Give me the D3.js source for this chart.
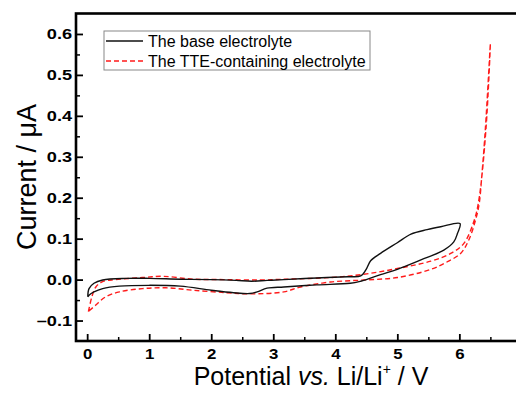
<!DOCTYPE html>
<html>
<head>
<meta charset="utf-8">
<script src="https://d3js.org/d3.v7.min.js"></script>
<style>
  body { margin: 0; background: #fff; }
  svg { display: block; }
  .tick text { font-family: Arial, "Liberation Sans", sans-serif; font-weight: bold; font-size: 14px; fill: #000; }
  .axis path, .axis line { stroke: #000; }
</style>
</head>
<body>
<div id="chart"></div>
<script>
var svgWidth = 516;
var svgHeight = 394;

// potential (V) and current (uA), loop order
var basePotential = [0.01, 0.03, 0.11, 0.25, 0.63, 1.0, 1.5, 2.0, 2.4, 2.65, 2.9, 3.17, 3.7, 4.2, 4.41, 4.49,
  4.57, 4.73, 5.0, 5.22, 5.48, 5.7, 6.01, 5.97, 5.91, 5.75, 5.38, 5.0, 4.73, 4.5, 4.41, 4.24, 3.7, 3.17,
  2.9, 2.74, 2.62, 2.36, 2.0, 1.5, 1.0, 0.52, 0.25, 0.11, 0.03, 0.01];
var baseCurrent = [-0.042, -0.022, -0.009, -0.001, 0.003, 0.003, 0.001, 0.0, -0.002, -0.004, -0.002, 0.0, 0.004, 0.007, 0.009, 0.023,
  0.046, 0.064, 0.09, 0.111, 0.122, 0.129, 0.137, 0.113, 0.092, 0.072, 0.048, 0.025, 0.012, 0.0, -0.004, -0.009, -0.013, -0.018,
  -0.021, -0.030, -0.034, -0.032, -0.026, -0.016, -0.014, -0.016, -0.022, -0.030, -0.038, -0.042];

var ttePotential = [0.02, 0.08, 0.14, 0.25, 0.46, 0.89, 1.22, 1.71, 2.2, 2.79, 3.2, 3.92, 4.46, 5.0, 5.54, 5.86,
  6.07, 6.24, 6.32, 6.43, 6.5, 6.42, 6.36, 6.32, 6.26, 6.15, 6.02, 5.8, 5.54, 5.0, 4.46, 3.92, 3.44,
  3.17, 2.62, 2.25, 1.71, 1.27, 0.89, 0.52, 0.3, 0.14, 0.02];
var tteCurrent = [-0.078, -0.040, -0.018, -0.005, 0.0, 0.005, 0.008, 0.001, 0.0, -0.001, 0.001, 0.005, 0.013, 0.027, 0.045, 0.064,
  0.088, 0.145, 0.2, 0.37, 0.577, 0.37, 0.25, 0.186, 0.145, 0.096, 0.064, 0.043, 0.025, 0.005, -0.001, -0.006, -0.018,
  -0.030, -0.035, -0.032, -0.026, -0.020, -0.022, -0.030, -0.042, -0.062, -0.078];

var xMajor = [0, 1, 2, 3, 4, 5, 6, 7];
var yMajor = [-0.1, 0.0, 0.1, 0.2, 0.3, 0.4, 0.5, 0.6];
var seriesNames = ["The base electrolyte", "The TTE-containing electrolyte"];

var margin = { top: 13.5, left: 76, bottom: 53 };
var plotRight = 540;

var svg = d3.select("#chart")
  .append("svg")
  .attr("width", svgWidth)
  .attr("height", svgHeight);

var xScale = d3.scaleLinear()
  .domain([-0.18, 7.3])
  .range([margin.left, plotRight]);

var yScale = d3.scaleLinear()
  .domain([-0.15, 0.65])
  .range([svgHeight - margin.bottom, margin.top]);

var x0 = margin.left;
var yBottom = svgHeight - margin.bottom;

// minor ticks first, majors over them
var xMinor = d3.range(0.5, 7.5, 1);
var yMinor = d3.range(-0.05, 0.65, 0.1);

svg.append("g")
  .attr("class", "axis")
  .attr("transform", `translate(0, ${yBottom})`)
  .call(d3.axisBottom(xScale).tickValues(xMinor).tickSize(-4).tickFormat(""))
  .call(g => g.select(".domain").remove())
  .call(g => g.selectAll("text").remove())
  .selectAll("line").attr("stroke-width", 1.5);

svg.append("g")
  .attr("class", "axis")
  .attr("transform", `translate(${x0}, 0)`)
  .call(d3.axisLeft(yScale).tickValues(yMinor).tickSize(-4).tickFormat(""))
  .call(g => g.select(".domain").remove())
  .call(g => g.selectAll("text").remove())
  .selectAll("line").attr("stroke-width", 1.5);

var xAxis = svg.append("g")
  .attr("class", "axis")
  .attr("transform", `translate(0, ${yBottom})`)
  .call(d3.axisBottom(xScale).tickValues(xMajor).tickSizeInner(-7).tickSizeOuter(0).tickPadding(8).tickFormat(d3.format("d")));
xAxis.select(".domain").remove();
xAxis.selectAll("line").attr("stroke-width", 1.8);
// the original labels are drawn wide
xAxis.selectAll("text").attr("transform", "scale(1.2,1)");

var yAxis = svg.append("g")
  .attr("class", "axis")
  .attr("transform", `translate(${x0}, 0)`)
  .call(d3.axisLeft(yScale).tickValues(yMajor).tickSizeInner(-7).tickSizeOuter(0).tickPadding(3)
    .tickFormat(d => d < 0 ? "\u2013" + d3.format(".1f")(-d) : d3.format(".1f")(d)));
yAxis.select(".domain").remove();
yAxis.selectAll("line").attr("stroke-width", 1.8);
yAxis.selectAll("text").attr("transform", "scale(1.3,1)");

// frame
svg.append("rect")
  .attr("x", x0)
  .attr("y", margin.top)
  .attr("width", plotRight - x0)
  .attr("height", yBottom - margin.top)
  .attr("fill", "none")
  .attr("stroke", "#000")
  .attr("stroke-width", 2.6);

var line = d3.line()
  .x(d => xScale(d[0]))
  .y(d => yScale(d[1]))
  .curve(d3.curveCatmullRom.alpha(0.5));

var tteData = ttePotential.map((p, i) => [p, tteCurrent[i]]);
var baseData = basePotential.map((p, i) => [p, baseCurrent[i]]);

svg.append("path")
  .datum(tteData)
  .attr("d", line)
  .attr("fill", "none")
  .attr("stroke", "#ff1a1a")
  .attr("stroke-width", 1.4)
  .attr("stroke-dasharray", "5,3");

svg.append("path")
  .datum(baseData)
  .attr("d", line)
  .attr("fill", "none")
  .attr("stroke", "#111")
  .attr("stroke-width", 1.4);

// legend
var legend = svg.append("g");

legend.append("rect")
  .attr("x", 104)
  .attr("y", 31)
  .attr("width", 266)
  .attr("height", 39)
  .attr("fill", "#fff")
  .attr("stroke", "#888")
  .attr("stroke-width", 1);

var legendColors = ["#111", "#ff1a1a"];
var legendDash = [null, "5,3"];

seriesNames.forEach(function(name, i) {
  var ly = 41 + i * 20;
  legend.append("line")
    .attr("x1", 106)
    .attr("x2", 143)
    .attr("y1", ly)
    .attr("y2", ly)
    .attr("stroke", legendColors[i])
    .attr("stroke-width", 1.4)
    .attr("stroke-dasharray", legendDash[i]);
  legend.append("text")
    .attr("x", 148)
    .attr("y", ly + 5.5)
    .attr("font-family", "Arial, 'Liberation Sans', sans-serif")
    .attr("font-size", 16)
    .text(name);
});

// axis titles
svg.append("text")
  .attr("transform", `translate(36, 177) rotate(-90)`)
  .attr("text-anchor", "middle")
  .attr("font-family", "Arial, 'Liberation Sans', sans-serif")
  .attr("font-size", 27)
  .text("Current / \u03bcA");

var xTitle = svg.append("text")
  .attr("x", 311)
  .attr("y", 385)
  .attr("text-anchor", "middle")
  .attr("font-family", "Arial, 'Liberation Sans', sans-serif")
  .attr("font-size", 25);

xTitle.append("tspan").text("Potential ");
xTitle.append("tspan").attr("font-style", "italic").text("vs.");
xTitle.append("tspan").text(" Li/Li");
xTitle.append("tspan").attr("font-size", 14).attr("dy", -11).text("+");
xTitle.append("tspan").attr("dy", 11).text(" / V");
</script>
</body>
</html>
